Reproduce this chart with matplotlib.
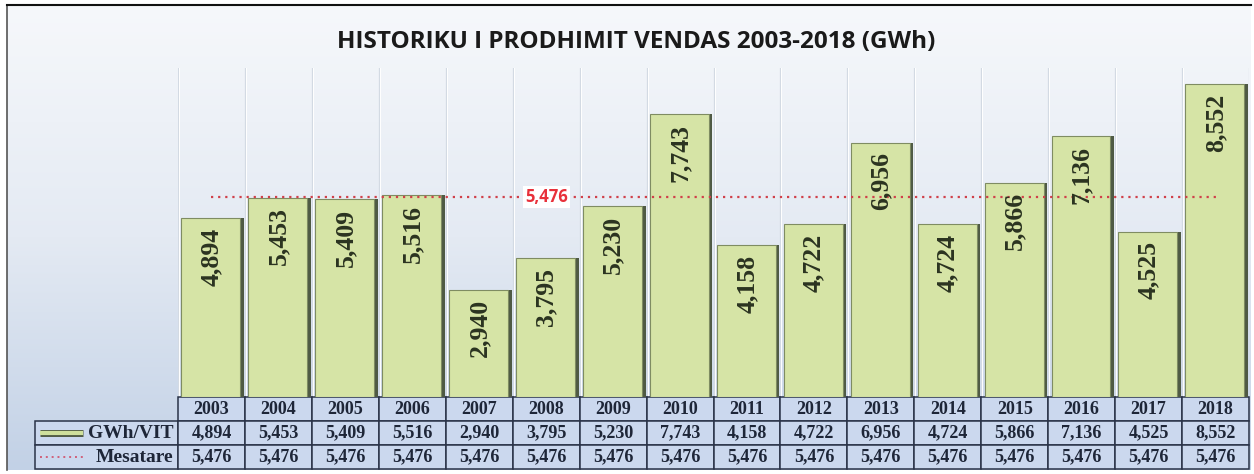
import numpy as np
import matplotlib
matplotlib.use("Agg")
import matplotlib.pyplot as plt
from matplotlib.lines import Line2D
from matplotlib.colors import LinearSegmentedColormap

# ---- data ----
years = ["2003", "2004", "2005", "2006", "2007", "2008", "2009", "2010",
         "2011", "2012", "2013", "2014", "2015", "2016", "2017", "2018"]
gwh = [4894, 5453, 5409, 5516, 2940, 3795, 5230, 7743,
       4158, 4722, 6956, 4724, 5866, 7136, 4525, 8552]
mesatare = [5476, 5476, 5476, 5476, 5476, 5476, 5476, 5476,
            5476, 5476, 5476, 5476, 5476, 5476, 5476, 5476]
row_labels = ["GWh/VIT", "Mesatare"]
title = "HISTORIKU I PRODHIMIT VENDAS 2003-2018 (GWh)"
avg_label_index = 5

W, H = 1254, 474
fig = plt.figure(figsize=(W / 100, H / 100), dpi=100)
fig.patch.set_facecolor("white")

# background gradient for the chart area
bg = fig.add_axes([7 / W, 1 - 470 / H, (1251 - 7) / W, (470 - 5) / H], zorder=-5)
grad = np.linspace(0, 1, 256).reshape(-1, 1)
cmap = LinearSegmentedColormap.from_list("bg", ["#f6f8fb", "#e4eaf3", "#c2d1e6"])
bg.imshow(grad, aspect="auto", cmap=cmap, extent=[0, 1, 0, 1], origin="upper")
bg.set_xticks([]); bg.set_yticks([])
for s in bg.spines.values():
    s.set_visible(False)
bg.spines["top"].set_visible(True); bg.spines["top"].set_color("#111111"); bg.spines["top"].set_linewidth(1.5)
bg.spines["left"].set_visible(True); bg.spines["left"].set_color("#555555"); bg.spines["left"].set_linewidth(1.2)

# main axes
x0, x1 = 178, 1249
ytop, ybot = 68, 397
ax = fig.add_axes([x0 / W, 1 - ybot / H, (x1 - x0) / W, (ybot - ytop) / H])
ax.set_facecolor("none")
x = np.arange(len(years))
ax.set_xlim(-0.5, len(years) - 0.5)
ax.set_ylim(0, 9000)

# vertical gridlines at category boundaries
for b in np.arange(-0.5, len(years) + 0.5, 1.0):
    ax.axvline(b, color="#d3dae3", lw=0.9, zorder=0)
    ax.axvline(b + 0.015, color="#ffffff", lw=0.7, zorder=0)

bw = 0.88
ax.bar(x + 0.045, gwh, width=bw, color="#4f5a44", zorder=2)
ax.bar(x - 0.01, gwh, width=bw, color="#d6e4a6", edgecolor="#7f8c62", lw=0.8, zorder=3)

for xi, v in zip(x, gwh):
    ax.annotate(f"{v:,}", xy=(xi, v), xytext=(0, -7), textcoords="offset points",
                rotation=90, ha="center", va="top", fontsize=18.5,
                fontweight="bold", family="Liberation Serif", color="#2b3320", zorder=5)

ax.plot(x, mesatare, color="#d0404a", lw=1.6, linestyle=(0, (1, 2.2)), zorder=4)
ax.annotate(f"{mesatare[avg_label_index]:,}", xy=(x[avg_label_index], mesatare[avg_label_index]),
            ha="center", va="center", fontsize=12, fontweight="bold", color="#e8303a",
            family="Open Sans",
            bbox=dict(boxstyle="square,pad=0.12", fc="white", ec="none"), zorder=6)

ax.set_xticks([]); ax.set_yticks([])
for s in ax.spines.values():
    s.set_visible(False)

# data table
lab_left = 35
tb_h = (469 - ybot) / (ybot - ytop)
cell_fc = "#cbd8ee"
ec = "#2a3348"
cell_text = [[f"{v:,}" for v in gwh], [f"{v:,}" for v in mesatare]]
tbl = ax.table(cellText=cell_text, rowLabels=row_labels, colLabels=years,
               cellLoc="center", rowLoc="right", colLoc="center",
               cellColours=[[cell_fc] * len(years)] * 2,
               rowColours=[cell_fc] * 2, colColours=[cell_fc] * len(years),
               bbox=[0, -tb_h, 1, tb_h])
tbl.auto_set_font_size(False)
tbl._autoColumns = []
labw = (x0 - lab_left) / (x1 - x0)
for (r, c), cell in tbl.get_celld().items():
    cell.set_edgecolor(ec)
    cell.set_linewidth(1.1)
    cell.get_text().set_fontsize(13 if c >= 0 else 14)
    cell.get_text().set_fontweight("bold")
    cell.get_text().set_family("Liberation Serif")
    cell.get_text().set_color("#1e2638")
    if c == -1:
        cell.set_width(labw)
        cell.PAD = 0.03

# legend keys inside the row label cells
row_h = tb_h / 3
kx0 = -labw + 0.005
kx1 = -labw + 0.045
ky1 = -row_h * 1.5
ky2 = -row_h * 2.5
ax.add_line(Line2D([kx0, kx1], [ky1, ky1], transform=ax.transAxes, color="#4f5a44",
                   lw=5, clip_on=False, zorder=7, solid_capstyle="butt"))
ax.add_line(Line2D([kx0, kx1], [ky1, ky1], transform=ax.transAxes, color="#cfe09c",
                   lw=3, clip_on=False, zorder=8, solid_capstyle="butt"))
ax.add_line(Line2D([kx0, kx1], [ky2, ky2], transform=ax.transAxes, color="#d0607a",
                   lw=1.4, linestyle=(0, (1, 2)), clip_on=False, zorder=8))

fig.text(0.507, 1 - 42 / H, title, ha="center", va="center", fontsize=17.5,
         fontweight="bold", family="Open Sans", color="#1a1a1a")

fig.savefig("out.png", dpi=100)
